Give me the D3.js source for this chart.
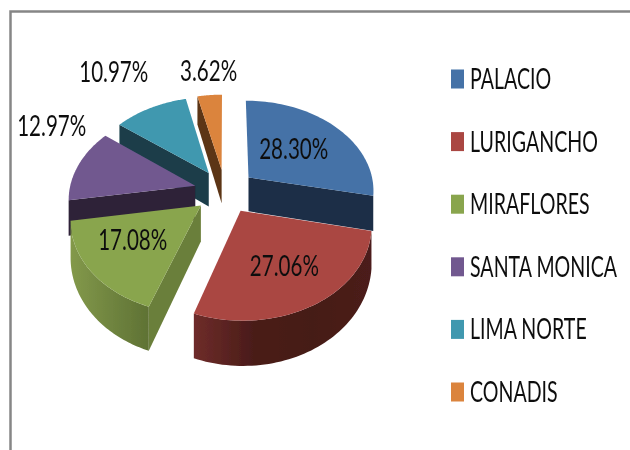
<!DOCTYPE html>
<html>
<head>
<meta charset="utf-8">
<script src="https://cdn.jsdelivr.net/npm/d3@7"></script>
<style>
  html, body { margin: 0; padding: 0; background: #fff; }
  svg { display: block; }
  text { font-family: Lato, "Open Sans", sans-serif; fill: #111; }
</style>
</head>
<body>
<svg id="chart" width="630" height="450"></svg>
<script>
const categories = ['PALACIO', 'LURIGANCHO', 'MIRAFLORES', 'SANTA MONICA', 'LIMA NORTE', 'CONADIS']
const shares = [28.30, 27.06, 17.08, 12.97, 10.97, 3.62]

const topColors = ['#4572A7', '#AA4643', '#89A54E', '#71588F', '#4198AF', '#DB843D']
const wallColors = ['#1c2e46', '#4a1c1a', '#6b7f3a', '#2e2238', '#1a3e4a', '#5c3517']
const rimStops = [
    ['#1c2e46', '#1c2e46'],
    ['#6e2c2a', '#4a1c19', '#451a17', '#4c1d1a'],
    ['#83994a', '#708540', '#5f7234'],
    ['#2e2238', '#2e2238'],
    ['#1a3e4a', '#1a3e4a'],
    ['#5c3517', '#5c3517']
]
// label placement: distance along the slice's middle, then a lift in pixels
const labelRadius = [0.5, 0.62, 0.64, 1.24, 1.74, 1.1]
const labelLift = [3, 1, 7, 34, -4, 18]

const view = {cx: 225, cy: 191, rx: 126, ry: 90, depth: 35, explode: 0.245, persp: 0.13}
const condensePct = 0.71
const condenseLegend = 0.70

const svg = d3.select('#chart')
const defs = svg.append('defs')

defs.append('filter').attr('id', 'soft')
    .append('feGaussianBlur').attr('stdDeviation', 0.45)

// frame, only top and left show in the picture
svg.append('path')
    .attr('d', 'M10.5,450V11.5H630')
    .attr('fill', 'none')
    .attr('stroke', '#868686')
    .attr('stroke-width', 2.5)

const slices = d3.pie().sort(null).value(d => d)(shares)
    .map((s, i) => ({...s, i, mid: (s.startAngle + s.endAngle) / 2}))

// angle is clockwise from the back of the disc, r in disc units
function project(slice, angle, r, lowered) {
    const off = view.explode
    const X = r * Math.sin(angle) + off * Math.sin(slice.mid)
    const Z = -r * Math.cos(angle) - off * Math.cos(slice.mid)
    const p = 1 / (1 - view.persp * Z)
    let y = view.cy + view.ry * Z * p
    if (lowered) y += view.depth * Math.pow(p, 1.5)
    return [view.cx + view.rx * X * p, y]
}

function arcPoints(slice, a0, a1, lowered) {
    return d3.range(0, 61).map(k => project(slice, a0 + (a1 - a0) * k / 60, 1, lowered))
}

const line = d3.line()
const pie3d = svg.append('g').attr('filter', 'url(#soft)')

// back slices first
const ordered = slices.slice().sort((a, b) => d3.ascending(-Math.cos(a.mid), -Math.cos(b.mid)))

ordered.forEach(s => {
    const g = pie3d.append('g')
    const apexTop = project(s, 0, 0, false)
    const apexLow = project(s, 0, 0, true)

    // radial walls that face the viewer
    if (Math.sin(s.startAngle) < -0.001) {
        g.append('path')
            .attr('d', line([apexTop, project(s, s.startAngle, 1, false), project(s, s.startAngle, 1, true), apexLow]) + 'Z')
            .attr('fill', wallColors[s.i])
    }
    if (Math.sin(s.endAngle) > 0.001) {
        g.append('path')
            .attr('d', line([apexTop, project(s, s.endAngle, 1, false), project(s, s.endAngle, 1, true), apexLow]) + 'Z')
            .attr('fill', wallColors[s.i])
    }

    // outer rim, front half only, slivers at the sides are skipped
    const a0 = Math.max(s.startAngle, Math.PI / 2)
    const a1 = Math.min(s.endAngle, Math.PI * 1.5)
    if (a1 - a0 > 0.3) {
        const upper = arcPoints(s, a0, a1, false)
        const lower = arcPoints(s, a0, a1, true)
        const xs = d3.extent(upper, d => d[0])
        const grad = defs.append('linearGradient')
            .attr('id', 'rim' + s.i)
            .attr('gradientUnits', 'userSpaceOnUse')
            .attr('x1', xs[0]).attr('x2', xs[1]).attr('y1', 0).attr('y2', 0)
        rimStops[s.i].forEach((c, k, all) => {
            grad.append('stop').attr('offset', k / (all.length - 1)).attr('stop-color', c)
        })
        g.append('path')
            .attr('d', line(upper.concat(lower.reverse())) + 'Z')
            .attr('fill', `url(#rim${s.i})`)
    }

    // top face
    const top = [apexTop].concat(arcPoints(s, s.startAngle, s.endAngle, false))
    g.append('path').attr('d', line(top) + 'Z').attr('fill', topColors[s.i])
})

// percentage labels
const textLayer = svg.append('g').attr('filter', 'url(#soft)')

slices.forEach(s => {
    const pos = project(s, s.mid, labelRadius[s.i], false)
    textLayer.append('text')
        .attr('transform', `translate(${pos[0]},${pos[1] - labelLift[s.i]}) scale(${condensePct},1)`)
        .attr('text-anchor', 'middle')
        .attr('dy', '0.36em')
        .attr('font-size', 29)
        .text(d3.format('.2f')(s.data) + '%')
})

// legend
const legendY = d3.scalePoint().domain(categories).range([79, 392])

const legend = svg.append('g').attr('filter', 'url(#soft)')
    .selectAll('g')
    .data(categories)
    .join('g')
    .attr('transform', d => `translate(451,${legendY(d)})`)

legend.append('rect')
    .attr('y', -9.5)
    .attr('width', 13)
    .attr('height', 19)
    .attr('fill', (d, i) => topColors[i])

legend.append('text')
    .attr('transform', `translate(19,0) scale(${condenseLegend},1)`)
    .attr('dy', '0.36em')
    .attr('font-size', 28)
    .text(d => d)
</script>
</body>
</html>
